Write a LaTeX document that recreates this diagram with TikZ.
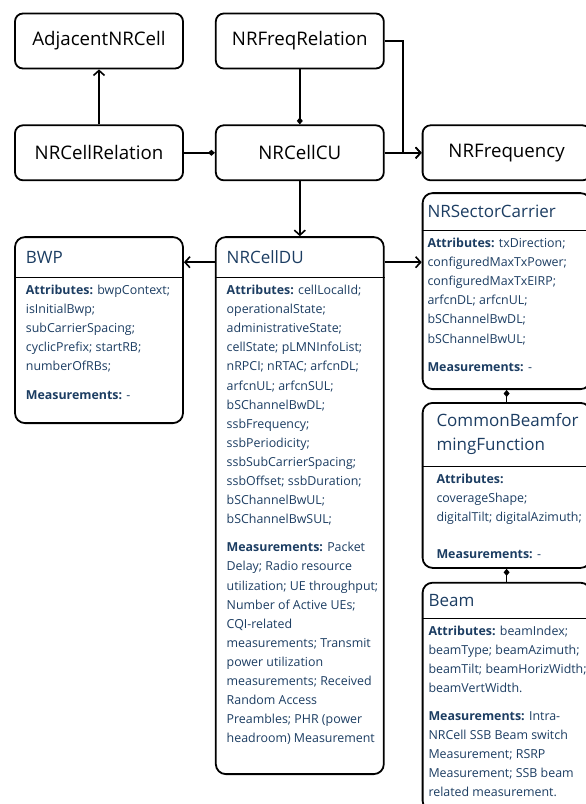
\documentclass[tikz,border=0pt]{standalone}
\usepackage{fontspec}
\setmainfont{Open Sans}
\usetikzlibrary{arrows.meta,positioning,calc}
\definecolor{txtblue}{HTML}{1C3D62}

\begin{document}
\begin{tikzpicture}[x=1pt, y=-1pt, >={Straight Barb[length=5pt,width=11pt]}, line width=1.6pt, node distance=55pt and 31pt]
	\tikzstyle{plain}=[draw=black,line width=1.8pt,rounded corners=8pt,minimum width=168pt,minimum height=55pt,font=\fontsize{18.7}{22}\selectfont]
	\tikzstyle{detail}=[draw=black,line width=1.8pt,rounded corners=10pt,minimum width=168pt]
	\tikzstyle{head}=[anchor=north west,text=txtblue,align=left,font=\fontsize{17}{24}\selectfont,inner xsep=11pt,inner ysep=0pt,minimum height=40pt]
	\tikzstyle{body}=[anchor=north west,text=txtblue,align=left,font=\fontsize{12.4}{19.1}\selectfont,inner xsep=11pt,inner ysep=6.5pt]
	\tikzstyle{sep}=[line width=1.2pt]
	\tikzstyle{part}=[arrows={-Diamond[length=7pt,width=6pt]}]
	\tikzstyle{whole}=[arrows={Diamond[length=7pt,width=6pt]-}]

	\useasboundingbox (0,0) rectangle (586,804);
	\clip (0,0) rectangle (586,804);

	% top rows
	\node[plain] (adj) at (99,41) {AdjacentNRCell};
	\node[plain] (rel) [below=of adj] {NRCellRelation};
	\node[plain] (cu) [right=of rel] {NRCellCU};
	\node[plain] (freq) [above=of cu] {NRFreqRelation};
	\node[plain] (nrf) [right=37pt of cu] {NRFrequency};

	% BWP
	\node[detail,minimum height=186pt] (bwp) [below=of rel] {};
	\node[head] (bwphead) at (bwp.north west) {BWP};
	\draw[sep] (bwp.west |- bwphead.south) -- (bwp.east |- bwphead.south);
	\node[body] (bwptext) at (bwphead.south west) {\textbf{Attributes:} bwpContext;\\
		isInitialBwp;\\ subCarrierSpacing;\\ cyclicPrefix; startRB;\\ numberOfRBs;\\[9pt]
		\textbf{Measurements:} -};

	% NRCellDU
	\node[detail,minimum height=537pt] (du) [below=of cu] {};
	\node[head] (duhead) at (du.north west) {NRCellDU};
	\draw[sep] (du.west |- duhead.south) -- (du.east |- duhead.south);
	\node[body] (dutext) at (duhead.south west) {\textbf{Attributes:} cellLocalId;\\
		operationalState;\\ administrativeState;\\ cellState; pLMNInfoList;\\
		nRPCI; nRTAC; arfcnDL;\\ arfcnUL; arfcnSUL;\\ bSChannelBwDL;\\ ssbFrequency;\\
		ssbPeriodicity;\\ ssbSubCarrierSpacing;\\ ssbOffset; ssbDuration;\\
		bSChannelBwUL;\\ bSChannelBwSUL;\\[9pt]
		\textbf{Measurements:} Packet\\ Delay; Radio resource\\ utilization; UE throughput;\\
		Number of Active UEs;\\ CQI-related\\ measurements; Transmit\\ power utilization\\
		measurements; Received\\ Random Access\\ Preambles; PHR (power\\
		headroom) Measurement};

	% NRSectorCarrier
	\node[detail,minimum height=196pt] (sc) [below=11pt of nrf] {};
	\node[head,minimum height=37pt,inner xsep=5pt] (schead) at (sc.north west) {NRSectorCarrier};
	\draw[sep] (sc.west |- schead.south) -- (sc.east |- schead.south);
	\node[body,inner xsep=5pt] (sctext) at (schead.south west) {\textbf{Attributes:} txDirection;\\
		configuredMaxTxPower;\\ configuredMaxTxEIRP;\\ arfcnDL; arfcnUL;\\
		bSChannelBwDL;\\ bSChannelBwUL;\\[9pt]
		\textbf{Measurements:} -};

	% CommonBeamformingFunction
	\node[detail,minimum height=165pt] (cbf) [below=12pt of sc] {};
	\node[head,minimum height=63pt,inner xsep=14pt] (cbfhead) at (cbf.north west) {CommonBeamfor\\ mingFunction};
	\draw[sep] (cbf.west |- cbfhead.south) -- (cbf.east |- cbfhead.south);
	\node[body,inner xsep=14pt] (cbftext) at (cbfhead.south west) {\textbf{Attributes:}\\
		coverageShape;\\ digitalTilt; digitalAzimuth;\\[18pt]
		\textbf{Measurements:} -};

	% Beam
	\node[detail,minimum height=228pt] (beam) [below=13pt of cbf] {};
	\node[head,minimum height=35pt,inner xsep=6pt] (beamhead) at (beam.north west) {Beam};
	\draw[sep] (beam.west |- beamhead.south) -- (beam.east |- beamhead.south);
	\node[body,inner xsep=6pt] (beamtext) at (beamhead.south west) {\textbf{Attributes:} beamIndex;\\
		beamType; beamAzimuth;\\ beamTilt; beamHorizWidth;\\ beamVertWidth.\\[9pt]
		\textbf{Measurements:} Intra-\\ NRCell SSB Beam switch\\ Measurement; RSRP\\
		Measurement; SSB beam\\ related measurement.};

	\path
	(rel) edge[->] (adj)
	      edge[part] (cu)
	(freq) edge[part] (cu)
	(cu) edge[whole,->] (du)
	     edge[->] (nrf)
	(sc) edge[whole] (cbf)
	(cbf) edge[whole] (beam);
	\draw[->] (freq.east) -| ($(cu.east)!.5!(nrf.west)$) -- (nrf.west);
	\draw[->] ([yshift=-26pt]du.north west) -- ([yshift=-26pt]du.north west -| bwp.east);
	\draw[->] ([yshift=-26pt]du.north east) -- ([yshift=-26pt]du.north east -| sc.west);
\end{tikzpicture}
\end{document}
